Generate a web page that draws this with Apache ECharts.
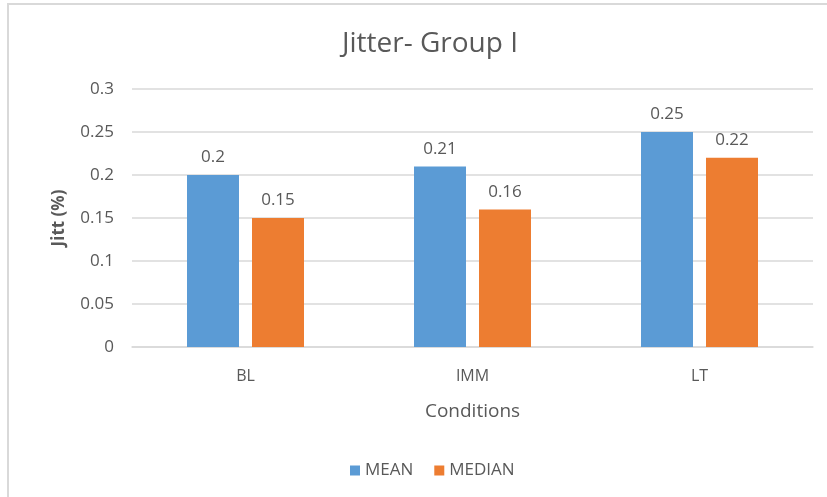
<!DOCTYPE html>
<html>
<head>
<meta charset="utf-8">
<script src="https://cdn.jsdelivr.net/npm/echarts@6/dist/echarts.min.js"></script>
<style>
  html, body { margin: 0; padding: 0; background: #fff; }
  #chart { width: 827px; height: 497px; }
</style>
</head>
<body>
<div id="chart"></div>
<script>
// Jitter measurements per condition
const categories = ['BL', 'IMM', 'LT'];
const meanValues = [0.2, 0.21, 0.25];
const medianValues = [0.15, 0.16, 0.22];
const yTicks = { min: 0, max: 0.3, interval: 0.05 };

const FONT = '"Open Sans", "Noto Sans", sans-serif';
const TEXT = '#595959';

const chart = echarts.init(document.getElementById('chart'), null, { renderer: 'canvas' });

const labelStyle = {
  show: true,
  position: 'top',
  distance: 9,
  color: TEXT,
  fontFamily: FONT,
  fontSize: 17
};

chart.setOption({
  animation: false,
  backgroundColor: '#fff',
  title: {
    text: 'Jitter- Group I',
    left: 425,
    textAlign: 'center',
    top: 25,
    textStyle: { color: TEXT, fontFamily: FONT, fontSize: 28, fontWeight: 'normal' }
  },
  graphic: [{
    type: 'rect',
    shape: { x: 8, y: 4, width: 840, height: 520 },
    style: { fill: 'none', stroke: '#d9d9d9', lineWidth: 2 },
    silent: true,
    z: -1
  }],
  legend: {
    data: ['MEAN', 'MEDIAN'],
    left: 345,
    top: 457,
    itemWidth: 10,
    itemHeight: 10,
    itemGap: 21,
    icon: 'rect',
    textStyle: { color: TEXT, fontFamily: FONT, fontSize: 17 }
  },
  grid: { left: 132, right: 14, top: 89, bottom: 150, containLabel: false },
  xAxis: {
    type: 'category',
    data: categories,
    name: 'Conditions',
    nameLocation: 'middle',
    nameGap: 55,
    nameTextStyle: { color: TEXT, fontFamily: FONT, fontSize: 19 },
    axisLine: { lineStyle: { color: '#d9d9d9', width: 1.5 } },
    axisTick: { show: false },
    axisLabel: { color: TEXT, fontFamily: FONT, fontSize: 16, margin: 21 },
  },
  yAxis: {
    type: 'value',
    min: yTicks.min,
    max: yTicks.max,
    interval: yTicks.interval,
    name: 'Jitt (%)',
    nameLocation: 'middle',
    nameGap: 64,
    nameTextStyle: { color: TEXT, fontFamily: FONT, fontSize: 17, fontWeight: 'bold' },
    axisLine: { show: false },
    axisTick: { show: false },
    axisLabel: { color: TEXT, fontFamily: FONT, fontSize: 17, margin: 18 },
    splitLine: { lineStyle: { color: '#d9d9d9', width: 1.5 } }
  },
  series: [
    {
      name: 'MEAN',
      type: 'bar',
      data: meanValues,
      barWidth: 52,
      barGap: '25%',
      itemStyle: { color: '#5b9bd5' },
      label: labelStyle
    },
    {
      name: 'MEDIAN',
      type: 'bar',
      data: medianValues,
      barWidth: 52,
      itemStyle: { color: '#ed7d31' },
      label: labelStyle
    }
  ]
});
</script>
</body>
</html>
